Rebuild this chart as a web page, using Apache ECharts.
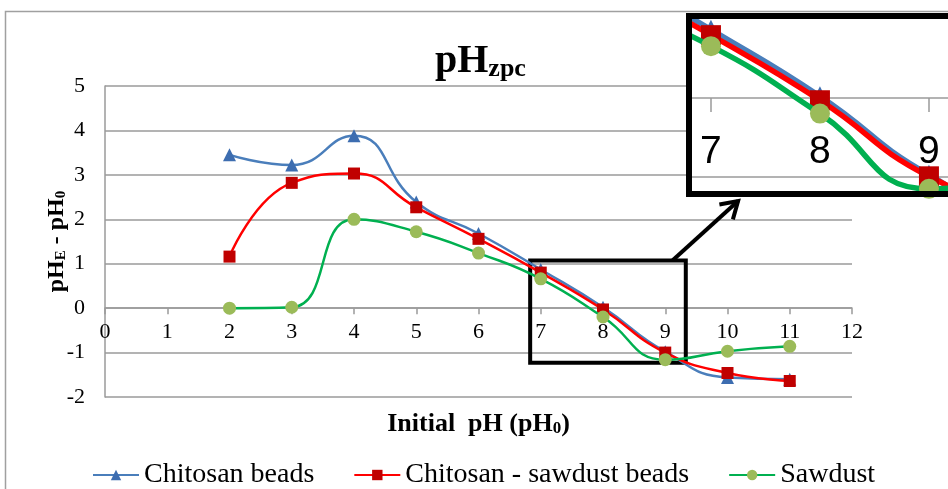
<!DOCTYPE html>
<html>
<head>
<meta charset="utf-8">
<script src="https://cdn.jsdelivr.net/npm/echarts@6/dist/echarts.min.js"></script>
<style>
html,body{margin:0;padding:0;background:#fff;}
#c{width:948px;height:489px;}
</style>
</head>
<body>
<div id="c"></div>
<script>
// ---- data ----
const initialPH = [2, 3, 4, 5, 6, 7, 8, 9, 10, 11];
const chitosanBeads = [3.45, 3.22, 3.88, 2.39, 1.68, 0.87, 0.02, -0.98, -1.56, -1.6];
const chitosanSawdustBeads = [1.16, 2.82, 3.03, 2.27, 1.56, 0.8, -0.03, -1.0, -1.46, -1.64];
const sawdust = [0.0, 0.02, 2.0, 1.72, 1.24, 0.66, -0.2, -1.16, -0.97, -0.86];
const xTicks = [0, 12];          // main x range
const yTicks = [-2, 5];          // main y range
const insetTicks = [7, 8, 9];    // tick labels of the magnified inset
const seriesNames = ['Chitosan beads', 'Chitosan - sawdust beads', 'Sawdust'];

const pairs = arr => initialPH.map((x, i) => [x, arr[i]]);
const SERIF = 'Liberation Serif';
const GRID = '#9a9a9a';

const styles = [
  {line: '#4A7EBB', mark: '#3D6DB0', symbol: 'triangle', size: 13},
  {line: '#FF0000', mark: '#C00000', symbol: 'rect', size: 12},
  {line: '#00B050', mark: '#9BBB59', symbol: 'circle', size: 13}
];
const dataSets = [chitosanBeads, chitosanSawdustBeads, sawdust];

const series = [];
dataSets.forEach((d, i) => {
  const s = styles[i];
  series.push({
    name: seriesNames[i], type: 'line', xAxisIndex: 0, yAxisIndex: 0,
    data: pairs(d), smooth: 0.5, symbol: s.symbol, symbolSize: s.size,
    lineStyle: {color: s.line, width: 2.5},
    itemStyle: {color: s.mark, borderColor: s.mark, borderWidth: 0},
    emphasis: {disabled: true}, z: 2 + i * 0.1
  });
});
// box marking the magnified region
series[2].markArea = {
  silent: true,
  itemStyle: {color: 'rgba(0,0,0,0)', borderColor: '#000', borderWidth: 4},
  label: {show: false},
  data: [[{coord: [6.83, 1.07]}, {coord: [9.33, -1.23]}]]
};
// inset copies
dataSets.forEach((d, i) => {
  const s = styles[i];
  series.push({
    name: seriesNames[i], type: 'line', xAxisIndex: 1, yAxisIndex: 1,
    data: pairs(d), smooth: 0.5, symbol: s.symbol, symbolSize: 20,
    lineStyle: {color: s.line, width: 5.5},
    itemStyle: {color: s.mark, borderWidth: 0},
    emphasis: {disabled: true}, z: 5 + i * 0.1,
    markLine: i === 2 ? {
      silent: true, symbol: 'none', label: {show: false},
      lineStyle: {color: GRID, width: 1.5, type: 'solid'},
      data: [{yAxis: -1}]
    } : undefined
  });
});

const chart = echarts.init(document.getElementById('c'), null, {renderer: 'canvas'});
chart.setOption({
  animation: false,
  backgroundColor: '#fff',
  title: {
    text: '{a|pH}{b|zpc}', left: 430, top: 37,
    textStyle: {
      rich: {
        a: {fontFamily: SERIF, fontWeight: 'bold', fontSize: 40, color: '#000', lineHeight: 40, verticalAlign: 'bottom'},
        b: {fontFamily: SERIF, fontWeight: 'bold', fontSize: 26, color: '#000', lineHeight: 24, verticalAlign: 'bottom'}
      }
    }
  },
  legend: {
    data: seriesNames, left: 87, top: 456, itemWidth: 46, itemHeight: 13, itemGap: 39,
    textStyle: {fontFamily: SERIF, fontSize: 28, color: '#000'}
  },
  grid: [
    {left: 105, right: 96, top: 86, bottom: 92, containLabel: false, outerBoundsMode: 'none'},
    {left: 692, top: 19, width: 268, height: 173, show: true, backgroundColor: '#fff', borderWidth: 0, z: 1,
     containLabel: false, outerBoundsMode: 'none'}
  ],
  xAxis: [
    {
      type: 'value', gridIndex: 0, min: xTicks[0], max: xTicks[1], interval: 1,
      axisLine: {onZero: true, lineStyle: {color: GRID, width: 1.5}},
      axisTick: {show: true, length: 6, lineStyle: {color: GRID, width: 1.5}},
      axisLabel: {fontFamily: SERIF, fontSize: 22, color: '#000', margin: -76},
      splitLine: {show: false},
      name: '{a|Initial  pH (pH}{s|0}{a|)}', nameLocation: 'middle', nameGap: 14,
      nameTextStyle: {
        rich: {
          a: {fontFamily: SERIF, fontWeight: 'bold', fontSize: 26, color: '#000', lineHeight: 26, verticalAlign: 'bottom'},
          s: {fontFamily: SERIF, fontWeight: 'bold', fontSize: 17, color: '#000', lineHeight: 14, verticalAlign: 'bottom'}
        }
      }
    },
    {
      type: 'value', gridIndex: 1, min: 6.826, max: 9.285, z: 3,
      axisLine: {onZero: true, lineStyle: {color: GRID, width: 1.5}},
      axisTick: {show: true, length: 14, customValues: insetTicks, lineStyle: {color: GRID, width: 1.5}},
      axisLabel: {fontFamily: 'Liberation Sans', fontSize: 39, color: '#000', margin: -59, customValues: insetTicks},
      splitLine: {show: false}
    }
  ],
  yAxis: [
    {
      type: 'value', gridIndex: 0, min: yTicks[0], max: yTicks[1], interval: 1,
      axisLine: {show: true, lineStyle: {color: GRID, width: 1.5}},
      axisTick: {show: false},
      axisLabel: {fontFamily: SERIF, fontSize: 22, color: '#000', margin: 20},
      splitLine: {show: true, lineStyle: {color: GRID, width: 1.5}},
      name: '{a|pH}{s|E}{a| - pH}{s|0}', nameLocation: 'middle', nameGap: 36, nameRotate: 90,
      nameMoveOverlap: false,
      nameTextStyle: {
        padding: [0, 0, 0, 0],
        rich: {
          a: {fontFamily: SERIF, fontWeight: 'bold', fontSize: 24, color: '#000', lineHeight: 24, verticalAlign: 'bottom'},
          s: {fontFamily: SERIF, fontWeight: 'bold', fontSize: 15, color: '#000', lineHeight: 12, verticalAlign: 'bottom'}
        }
      }
    },
    {
      type: 'value', gridIndex: 1, min: -1.2, max: 1.006, z: 3,
      axisLine: {show: false}, axisTick: {show: false}, axisLabel: {show: false}, splitLine: {show: false}
    }
  ],
  series: series
});

// arrow from the box to the inset, and the inset frame
const a0 = chart.convertToPixel({gridIndex: 0}, [9.12, 1.08]);
const a1 = chart.convertToPixel({gridIndex: 0}, [10.17, 2.41]);
const dx = a0[0] - a1[0], dy = a0[1] - a1[1];
const L = Math.hypot(dx, dy), ux = dx / L, uy = dy / L;
const ang = 32 * Math.PI / 180, arm = 19;
const rot = (t) => [a1[0] + arm * (ux * Math.cos(t) - uy * Math.sin(t)), a1[1] + arm * (ux * Math.sin(t) + uy * Math.cos(t))];
chart.setOption({
  graphic: [
    {type: 'rect', z: -10, silent: true, shape: {x: 5.5, y: 11.5, width: 1000, height: 1000},
     style: {fill: 'none', stroke: '#a0a0a0', lineWidth: 1.5}},
    {type: 'line', z: 50, silent: true, shape: {x1: a0[0], y1: a0[1], x2: a1[0], y2: a1[1]},
     style: {stroke: '#000', lineWidth: 4}},
    {type: 'polyline', z: 50, silent: true, shape: {points: [rot(ang), a1, rot(-ang)]},
     style: {stroke: '#000', lineWidth: 4, fill: 'none', lineJoin: 'miter'}},
    {type: 'rect', z: 60, silent: true, shape: {x: 689, y: 16, width: 280, height: 178},
     style: {fill: 'none', stroke: '#000', lineWidth: 6}}
  ]
});
</script>
</body>
</html>
